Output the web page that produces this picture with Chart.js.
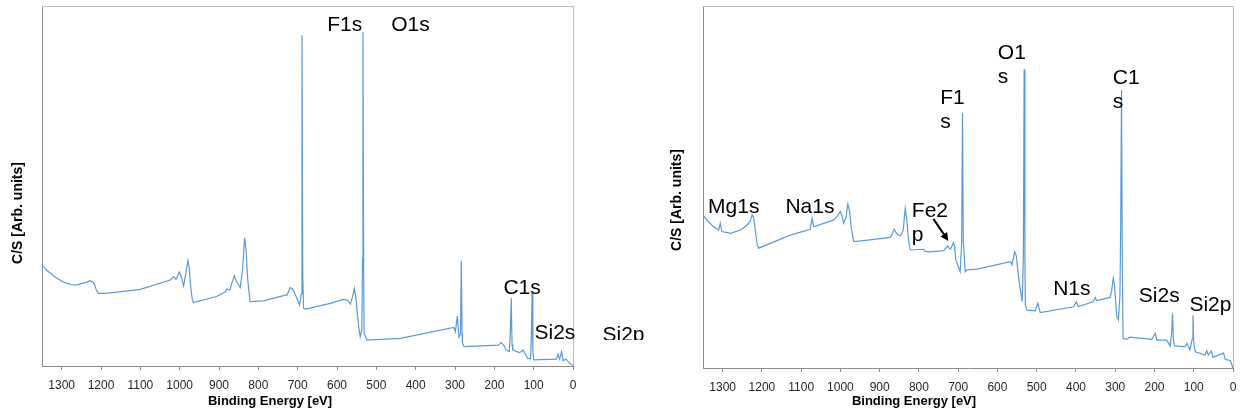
<!DOCTYPE html>
<html>
<head>
<meta charset="utf-8">
<script src="https://cdn.jsdelivr.net/npm/chart.js@4.4.1/dist/chart.umd.min.js"></script>
<style>
  html, body { margin: 0; padding: 0; background: #fff; }
  #wrap { position: relative; width: 1241px; height: 419px; overflow: hidden; }
  #left { position: absolute; left: 0; top: 0; }
  #right { position: absolute; left: 620px; top: 0; }
</style>
</head>
<body>
<div id="wrap">
  <canvas id="left" width="660" height="419"></canvas>
  <canvas id="right" width="621" height="419"></canvas>
</div>
<script>
// binding energy ticks (eV), shown from 1300 down to 0
const energyTicks = [0, 100, 200, 300, 400, 500, 600, 700, 800, 900, 1000, 1100, 1200, 1300];

// left spectrum (arbitrary units 0-100)
const leftEnergy = [1350, 1340, 1330, 1315, 1297, 1285, 1271, 1258, 1246, 1236, 1228, 1222, 1218, 1212, 1207, 1190,
    1170, 1100, 1024, 1016, 1009, 1001, 995, 990, 984, 979, 976, 972, 968, 965,
    906, 884, 880, 872, 866, 861, 858, 855, 850, 846, 840, 835, 831, 827, 821, 787, 731, 727, 719, 714, 710, 702, 695,
    691, 689, 687, 685, 680,
    617, 584, 572, 566, 560, 556, 552, 549, 545, 541, 537, 535, 534, 532, 531, 524, 439, 303, 299, 294, 290, 286, 284, 282, 281, 277,
    190, 182, 175, 170, 162, 159, 157, 155, 153, 136, 127, 115, 108, 106, 104, 102, 100, 42, 38, 34, 29, 25, 18, 12, 3, 0];
const leftCounts = [28.1, 26.8, 25.9, 24.6, 23.4, 22.9, 22.5, 22.6, 23.0, 23.3, 23.7, 23.4, 23.0, 21.2, 20.2, 20.2,
    20.4, 21.3, 23.9, 24.8, 24.1, 26.1, 24.5, 22.2, 26.0, 29.3, 27.5, 22.0, 18.5, 17.6,
    19.3, 20.6, 21.4, 21.1, 23.5, 25.1, 24.0, 23.4, 22.5, 21.8, 27.0, 35.6, 32.0, 24.0, 17.9, 18.1, 19.7, 19.7, 21.8, 21.5, 20.8, 18.8, 16.9,
    20, 91.9, 25, 16, 15.8,
    17.4, 18.5, 18.2, 17.2, 19.5, 21.6, 19.0, 15.6, 11.0, 8.1, 10, 30, 92.8, 20, 9.2, 7.2, 7.7, 10.7, 9.5, 13.9, 8.0, 9, 29.2, 9, 6.3, 5.4,
    5.8, 6.5, 5.6, 4.4, 4.0, 10, 18.9, 6, 4.4, 3.7, 4.4, 2.1, 2.0, 8, 20.3, 4, 1.7, 1.9, 3.3, 1.9, 4.0, 1.5, 1.9, 1.2, 0.3, 0];

// right spectrum
const rightEnergy = [1350, 1340, 1323, 1310, 1306, 1302, 1280, 1255, 1245, 1238, 1230, 1225, 1221, 1216, 1212, 1208,
    1128, 1077, 1072, 1068, 1017, 1009, 1000, 996, 992, 986, 981, 977, 972, 966, 941, 873, 868, 863, 857, 851, 847,
    840, 835, 831, 826, 822, 788, 784, 771, 737, 727, 720, 712, 709, 706, 699, 695, 691, 689, 687, 682, 678, 652,
    567, 563, 559, 556, 552, 550, 543, 537, 534, 532, 530, 529, 525, 504, 497, 491, 406, 399, 394, 356, 351, 347,
    313, 309, 305, 302, 300, 296, 292, 288, 286, 284, 282, 280, 271, 263, 207, 198, 194, 169,
    160, 156, 154, 152, 149, 122, 117, 110, 104, 102, 100, 96, 71, 67, 63, 55, 51, 24, 20, 7, 0];
const rightCounts = [42.3, 40.8, 39.0, 38.1, 40.0, 37.7, 37.2, 38.1, 38.8, 39.5, 40.5, 42.3, 41.5, 37.5, 34.0, 33.1,
    36.7, 38.3, 41.4, 39.0, 40.9, 41.8, 43.2, 42.0, 40.0, 41.5, 45.3, 43.5, 38.5, 34.9, 35.2, 36.1, 37.0, 38.3, 37.2, 36.6, 36.5,
    38.0, 44.1, 41.0, 35.0, 32.6, 32.8, 32.2, 32.1, 32.4, 33.7, 32.8, 34.6, 33.5, 29.8, 27.8, 26.6, 35, 70.5, 35, 26.6, 27.1, 27.3,
    29.4, 28.5, 30.5, 32.1, 31.0, 28.9, 22.5, 18.3, 30, 82.5, 30, 17.4, 16.0, 15.8, 17.9, 15.3, 16.9, 18.3, 17.0, 18.3, 19.5, 18.6,
    19.5, 21.5, 24.8, 23.0, 20.2, 14.4, 13.3, 20, 40, 76.8, 30, 8.2, 7.9, 8.5, 7.9, 9.6, 7.7, 7.7,
    6.1, 10, 15.1, 8, 6.1, 5.9, 6.8, 5.0, 8, 14.6, 7, 4.5, 3.6, 4.8, 3.6, 4.7, 3.0, 4.1, 2.4, 2.0, 0];

// peak labels: text lines, energy of left edge, height of first line centre
const leftPeaks = [
    { text: ['F1s'], e: 625, v: 94.7 },
    { text: ['O1s'], e: 462, v: 94.7 },
    { text: ['C1s'], e: 177, v: 21.7 },
    { text: ['Si2s'], e: 98, v: 9.2 },
    { text: ['Si2p'], e: -75, v: 8.6, clip: 7.2 },
];
const rightPeaks = [
    { text: ['Mg1s'], e: 1337, v: 44.5 },
    { text: ['Na1s'], e: 1140, v: 44.5 },
    { text: ['Fe2', 'p'], e: 818, v: 43.4 },
    { text: ['F1', 's'], e: 746, v: 74.6 },
    { text: ['O1', 's'], e: 599, v: 87 },
    { text: ['C1', 's'], e: 306, v: 80.1 },
    { text: ['N1s'], e: 458, v: 21.8 },
    { text: ['Si2s'], e: 240, v: 19.7 },
    { text: ['Si2p'], e: 111, v: 17.4 },
];
const rightArrows = [{ from: [763, 41.2], to: [725, 35.1] }];

const FONT = '"Liberation Sans", Arial, sans-serif';

const decor = {
    id: 'decor',
    afterDatasetsDraw(chart, args, opts) {
        const { ctx, chartArea: a, scales: { x, y } } = chart;
        ctx.save();
        // light frame on top and right
        ctx.strokeStyle = '#bdbdbd';
        ctx.lineWidth = 1;
        ctx.beginPath();
        ctx.moveTo(a.left, a.top + 0.5);
        ctx.lineTo(a.right + 0.5, a.top + 0.5);
        ctx.lineTo(a.right + 0.5, a.bottom);
        ctx.stroke();

        ctx.fillStyle = '#000';
        ctx.font = '21px ' + FONT;
        ctx.textAlign = 'left';
        ctx.textBaseline = 'middle';
        opts.peaks.forEach((p) => {
            const px = x.getPixelForValue(p.e);
            const py = y.getPixelForValue(p.v);
            ctx.save();
            if (p.clip !== undefined) {
                ctx.beginPath();
                ctx.rect(0, 0, chart.width, y.getPixelForValue(p.clip));
                ctx.clip();
            }
            p.text.forEach((t, i) => ctx.fillText(t, px, py + i * 24.5));
            ctx.restore();
        });

        (opts.arrows || []).forEach((ar) => {
            const x0 = x.getPixelForValue(ar.from[0]);
            const y0 = y.getPixelForValue(ar.from[1]);
            const x1 = x.getPixelForValue(ar.to[0]);
            const y1 = y.getPixelForValue(ar.to[1]);
            const ang = Math.atan2(y1 - y0, x1 - x0);
            ctx.strokeStyle = '#000';
            ctx.lineWidth = 2;
            ctx.beginPath();
            ctx.moveTo(x0, y0);
            ctx.lineTo(x1 - 6 * Math.cos(ang), y1 - 6 * Math.sin(ang));
            ctx.stroke();
            ctx.beginPath();
            ctx.moveTo(x1, y1);
            ctx.lineTo(x1 - 9 * Math.cos(ang - 0.45), y1 - 9 * Math.sin(ang - 0.45));
            ctx.lineTo(x1 - 9 * Math.cos(ang + 0.45), y1 - 9 * Math.sin(ang + 0.45));
            ctx.closePath();
            ctx.fill();
        });

        // axis titles
        ctx.fillStyle = '#000';
        ctx.textAlign = 'center';
        ctx.font = 'bold 13px ' + FONT;
        ctx.fillText('Binding Energy [eV]', opts.xTitle[0], opts.xTitle[1]);
        ctx.translate(opts.yTitle[0], opts.yTitle[1]);
        ctx.rotate(-Math.PI / 2);
        ctx.font = 'bold 14px ' + FONT;
        ctx.fillText('C/S [Arb. units]', 0, 0);
        ctx.restore();
    },
};

function makeChart(id, energy, counts, padding, bottomHeight, decorOpts) {
    const points = energy.map((e, i) => ({ x: e, y: counts[i] }));
    return new Chart(document.getElementById(id), {
        type: 'line',
        data: {
            datasets: [{
                data: points,
                borderColor: '#5b9bd5',
                borderWidth: 1.2,
                pointRadius: 0,
                tension: 0,
                fill: false,
            }],
        },
        options: {
            responsive: false,
            animation: false,
            events: [],
            layout: { padding },
            plugins: {
                legend: { display: false },
                tooltip: { enabled: false },
                decor: decorOpts,
            },
            scales: {
                x: {
                    type: 'linear',
                    reverse: true,
                    min: 0,
                    max: 1350,
                    afterBuildTicks: (s) => { s.ticks = energyTicks.map((v) => ({ value: v })); },
                    afterFit: (s) => { s.height = bottomHeight; },
                    ticks: {
                        autoSkip: false,
                        maxRotation: 0,
                        padding: 8,
                        color: '#262626',
                        font: { family: FONT, size: 12 },
                        callback: (v) => String(v),
                    },
                    grid: { drawOnChartArea: false, tickLength: 4, color: '#8c8c8c' },
                    border: { color: '#8c8c8c' },
                },
                y: {
                    min: 0,
                    max: 100,
                    afterFit: (s) => { s.width = 0; },
                    ticks: { display: false },
                    grid: { drawOnChartArea: false, drawTicks: false },
                    border: { color: '#8c8c8c' },
                },
            },
        },
        plugins: [decor],
    });
}

makeChart('left', leftEnergy, leftCounts, { left: 42, right: 87, top: 6, bottom: 0 }, 53,
    { peaks: leftPeaks, xTitle: [270, 401], yTitle: [18, 213] });
makeChart('right', rightEnergy, rightCounts, { left: 83, right: 8, top: 6, bottom: 0 }, 51,
    { peaks: rightPeaks, arrows: rightArrows, xTitle: [294, 401], yTitle: [57, 200] });
</script>
</body>
</html>
